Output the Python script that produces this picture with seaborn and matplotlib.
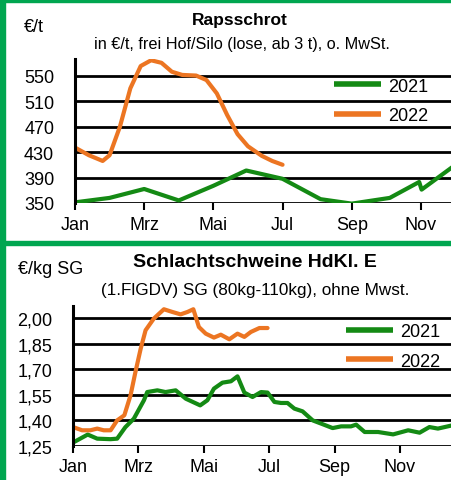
import matplotlib
matplotlib.use("Agg")
import matplotlib.pyplot as plt
import seaborn as sns
import pandas as pd

# Rapsschrot (month offset from 1 Jan, EUR/t)
raps_2021_x = [0.0, 1.0, 2.0, 3.0, 4.0, 4.95, 6.0, 7.1, 8.0, 9.1, 9.95, 10.02, 10.9]
raps_2021_y = [351, 358, 372, 354, 377, 401, 388, 356, 349, 358, 383, 371, 406]
raps_2022_x = [0.0, 0.4, 0.8, 1.0, 1.3, 1.6, 1.9, 2.2, 2.5, 2.8, 3.1, 3.5, 3.8,
               4.1, 4.4, 4.7, 5.0, 5.4, 5.7, 6.0]
raps_2022_y = [437, 425, 416, 425, 470, 530, 565, 574, 570, 556, 551, 550, 543,
               522, 488, 458, 439, 424, 416, 410]

# Schlachtschweine (month offset, EUR/kg SG)
sw_2021_x = [0.0, 0.45, 0.74, 1.15, 1.35, 1.6, 1.86, 2.17, 2.27, 2.58, 2.83, 3.14,
             3.45, 3.89, 4.11, 4.31, 4.57, 4.83, 5.03, 5.24, 5.49, 5.75, 5.95, 6.16,
             6.36, 6.56, 6.77, 7.02, 7.33, 7.59, 7.94, 8.2, 8.5, 8.66, 8.92, 9.33,
             9.79, 10.25, 10.6, 10.9, 11.16, 11.6]
sw_2021_y = [1.27, 1.317, 1.293, 1.29, 1.293, 1.36, 1.41, 1.518, 1.566, 1.576, 1.566,
             1.576, 1.527, 1.488, 1.518, 1.586, 1.621, 1.629, 1.658, 1.563, 1.537,
             1.566, 1.563, 1.508, 1.502, 1.502, 1.469, 1.453, 1.40, 1.381, 1.355,
             1.365, 1.365, 1.375, 1.332, 1.332, 1.318, 1.342, 1.328, 1.361, 1.352, 1.371]
sw_2022_x = [0.0, 0.28, 0.53, 0.74, 0.94, 1.15, 1.35, 1.57, 1.76, 1.91, 2.07, 2.22,
             2.47, 2.78, 3.04, 3.29, 3.5, 3.68, 3.85, 4.06, 4.31, 4.52, 4.78, 5.03,
             5.24, 5.44, 5.7, 5.95]
sw_2022_y = [1.361, 1.342, 1.342, 1.352, 1.342, 1.342, 1.40, 1.43, 1.547, 1.684,
             1.82, 1.928, 1.996, 2.051, 2.035, 2.021, 2.035, 2.051, 1.947, 1.908,
             1.885, 1.902, 1.875, 1.908, 1.889, 1.918, 1.941, 1.941]

month_labels = ["Jan", "Mrz", "Mai", "Jul", "Sep", "Nov"]
month_ticks = [0, 2, 4, 6, 8, 10]

GREEN = "#148A14"
ORANGE = "#EC7522"
BORDER = "#00A650"

sns.set_style("white")
plt.rcParams["font.family"] = ["Liberation Sans Narrow", "Liberation Sans", "DejaVu Sans"]
plt.rcParams["text.color"] = "black"
plt.rcParams["xtick.color"] = "black"
plt.rcParams["ytick.color"] = "black"
plt.rcParams["axes.labelcolor"] = "black"

W, H = 451, 481
fig = plt.figure(figsize=(W / 100, H / 100), dpi=100)


def px_axes(left, top, right, bottom):
    return fig.add_axes([left / W, 1 - bottom / H, (right - left) / W, (bottom - top) / H])


def style_axes(ax, yticks, ylabels, leg_anchor):
    ax.set_yticks(yticks)
    ax.set_yticklabels(ylabels)
    ax.set_xticks(month_ticks)
    ax.set_xticklabels(month_labels)
    for s in ["top", "right", "bottom"]:
        ax.spines[s].set_visible(False)
    ax.spines["left"].set_linewidth(2.2)
    ax.spines["left"].set_color("black")
    ax.grid(axis="y", color="black", linewidth=2)
    ax.grid(axis="x", visible=False)
    ax.tick_params(axis="y", length=5, width=2, color="black", labelsize=13, pad=10)
    ax.tick_params(axis="x", length=5, width=1.5, color="black", labelsize=13, pad=4,
                   direction="out", bottom=True)
    ax.set_xlabel("")
    ax.set_ylabel("")
    ax.set_facecolor("none")
    leg = ax.legend(loc="upper right", bbox_to_anchor=leg_anchor, frameon=False,
                    fontsize=13, handlelength=2.6, handletextpad=0.4, labelspacing=0.7,
                    borderaxespad=0)
    for line in leg.get_lines():
        line.set_linewidth(4)
        line.set_solid_capstyle("butt")


# ---- top panel: Rapsschrot
ax1 = px_axes(75, 60, 451, 204)
df = pd.concat([
    pd.DataFrame({"m": raps_2021_x, "v": raps_2021_y, "Jahr": "2021"}),
    pd.DataFrame({"m": raps_2022_x, "v": raps_2022_y, "Jahr": "2022"}),
])
sns.lineplot(data=df, x="m", y="v", hue="Jahr", palette=[GREEN, ORANGE],
             linewidth=3, ax=ax1, sort=False)
ax1.set_xlim(0, 10.87)
ax1.set_ylim(350, 576)
style_axes(ax1, [350, 390, 430, 470, 510, 550], ["350", "390", "430", "470", "510", "550"],
           (0.96, 0.92))

fig.text(240 / W, 1 - 20 / H, "Rapsschrot", ha="center", va="center",
         fontsize=12.5, fontweight="bold")
fig.text(242 / W, 1 - 45 / H, "in €/t, frei Hof/Silo (lose, ab 3 t), o. MwSt.",
         ha="center", va="center", fontsize=11.7)
fig.text(24 / W, 1 - 28 / H, "€/t", ha="left", va="center", fontsize=13)

# ---- bottom panel: Schlachtschweine
ax2 = px_axes(73, 307, 451, 447)
df2 = pd.concat([
    pd.DataFrame({"m": sw_2021_x, "v": sw_2021_y, "Jahr": "2021"}),
    pd.DataFrame({"m": sw_2022_x, "v": sw_2022_y, "Jahr": "2022"}),
])
sns.lineplot(data=df2, x="m", y="v", hue="Jahr", palette=[GREEN, ORANGE],
             linewidth=3, ax=ax2, sort=False)
ax2.set_xlim(0, 11.56)
ax2.set_ylim(1.25, 2.07)
style_axes(ax2, [1.25, 1.40, 1.55, 1.70, 1.85, 2.00],
           ["1,25", "1,40", "1,55", "1,70", "1,85", "2,00"], (0.99, 0.93))

fig.text(255 / W, 1 - 263 / H, "Schlachtschweine HdKl. E", ha="center", va="center",
         fontsize=14, fontweight="bold")
fig.text(255 / W, 1 - 290 / H, "(1.FlGDV) SG (80kg-110kg), ohne Mwst.",
         ha="center", va="center", fontsize=12.3)
fig.text(18 / W, 1 - 270 / H, "€/kg SG", ha="left", va="center", fontsize=13)

# ---- green frame
fig.patches.append(plt.Rectangle((0, 0), 5 / W, 1, transform=fig.transFigure,
                                 color=BORDER, zorder=10))
fig.patches.append(plt.Rectangle((0, 1 - 3 / H), 1, 3 / H, transform=fig.transFigure,
                                 color=BORDER, zorder=10))
fig.patches.append(plt.Rectangle((0, 1 - 246 / H), 1, 4 / H, transform=fig.transFigure,
                                 color=BORDER, zorder=10))

fig.savefig("out.png", dpi=100)
